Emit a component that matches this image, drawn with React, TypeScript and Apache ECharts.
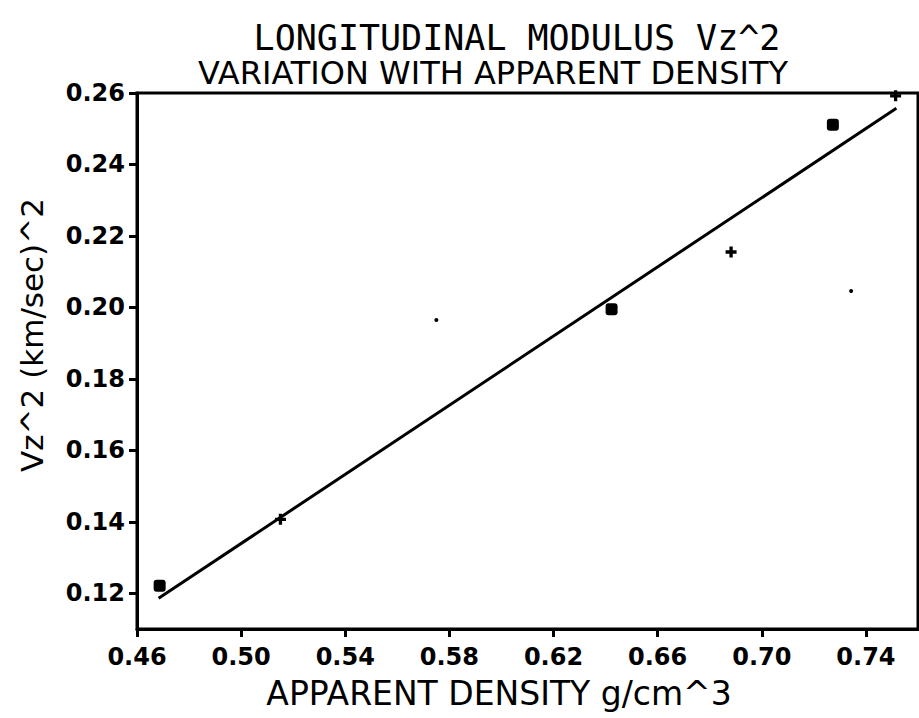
import React, { useEffect, useRef } from "react";
import * as echarts from "echarts";

const titleLines = ["LONGITUDINAL MODULUS Vz^2", "VARIATION WITH APPARENT DENSITY"];
const xAxisName = "APPARENT DENSITY g/cm^3";
const yAxisName = "Vz^2 (km/sec)^2";

const xTicks = [0.46, 0.5, 0.54, 0.58, 0.62, 0.66, 0.7, 0.74];
const yTicks = [0.12, 0.14, 0.16, 0.18, 0.2, 0.22, 0.24, 0.26];

const squarePoints: [number, number][] = [
  [0.4687, 0.1221],
  [0.6423, 0.1995],
  [0.7273, 0.2511],
];
const plusPoints: [number, number][] = [
  [0.5151, 0.1407],
  [0.6882, 0.2155],
  [0.7514, 0.2592],
];
const specks: [number, number][] = [
  [0.575, 0.1965],
  [0.7343, 0.2046],
];
const fitLine: [number, number][] = [
  [0.4683, 0.1186],
  [0.7517, 0.2557],
];

const PLUS =
  "path://M3.5,0 L6.5,0 L6.5,3.5 L10,3.5 L10,6.5 L6.5,6.5 L6.5,10 L3.5,10 L3.5,6.5 L0,6.5 L0,3.5 L3.5,3.5 Z";

export default function App() {
  const ref = useRef<HTMLDivElement>(null);
  useEffect(() => {
    if (!ref.current) return;
    const chart = echarts.init(ref.current, null, { renderer: "svg" });
    const tickFont = {
      fontFamily: "DejaVu Sans",
      fontWeight: "bold" as const,
      fontSize: 24,
      color: "#000",
    };
    chart.setOption({
      animation: false,
      backgroundColor: "#fff",
      grid: {
        left: 137,
        right: 1,
        top: 93,
        bottom: 89,
        show: true,
        borderColor: "#000",
        borderWidth: 3,
      },
      xAxis: {
        type: "value",
        min: 0.46,
        max: 0.76,
        axisLine: { show: true, lineStyle: { color: "#000", width: 3 } },
        axisTick: {
          show: true,
          length: 8,
          lineStyle: { color: "#000", width: 3 },
          customValues: xTicks,
        },
        axisLabel: {
          ...tickFont,
          margin: 16,
          customValues: xTicks,
          formatter: (v: number) => v.toFixed(2),
        },
        splitLine: { show: false },
      },
      yAxis: {
        type: "value",
        min: 0.11,
        max: 0.26,
        axisLine: { show: true, lineStyle: { color: "#000", width: 3 } },
        axisTick: {
          show: true,
          length: 8,
          lineStyle: { color: "#000", width: 3 },
          customValues: yTicks,
        },
        axisLabel: {
          ...tickFont,
          margin: 12,
          customValues: yTicks,
          formatter: (v: number) => v.toFixed(2),
        },
        splitLine: { show: false },
      },
      graphic: [
        {
          type: "text",
          x: 517,
          y: 38,
          style: {
            text: titleLines[0],
            font: "35px 'DejaVu Sans Mono'",
            fill: "#000",
            align: "center",
            verticalAlign: "middle",
          },
        },
        {
          type: "text",
          x: 493,
          y: 73,
          style: {
            text: titleLines[1],
            font: "32px 'DejaVu Sans'",
            fill: "#000",
            align: "center",
            verticalAlign: "middle",
          },
        },
        {
          type: "text",
          x: 499,
          y: 693,
          style: {
            text: xAxisName,
            font: "33px 'DejaVu Sans'",
            fill: "#000",
            align: "center",
            verticalAlign: "middle",
          },
        },
        {
          type: "text",
          x: 32,
          y: 335,
          rotation: Math.PI / 2,
          style: {
            text: yAxisName,
            font: "31px 'DejaVu Sans'",
            fill: "#000",
            align: "center",
            verticalAlign: "middle",
          },
        },
      ],
      series: [
        {
          type: "line",
          data: fitLine,
          symbol: "none",
          lineStyle: { color: "#000", width: 3 },
          z: 2,
        },
        {
          type: "scatter",
          data: squarePoints,
          symbol: "roundRect",
          symbolSize: 12,
          itemStyle: { color: "#000", opacity: 1 },
          z: 3,
        },
        {
          type: "scatter",
          data: plusPoints,
          symbol: PLUS,
          symbolSize: 11,
          itemStyle: { color: "#000", opacity: 1 },
          z: 3,
        },
        {
          type: "scatter",
          data: specks,
          symbol: "circle",
          symbolSize: 4,
          itemStyle: { color: "#000", opacity: 1 },
          z: 3,
        },
      ],
    });
    return () => chart.dispose();
  }, []);
  return <div ref={ref} style={{ width: 919, height: 718, position: "absolute", left: 0, top: 0 }} />;
}
